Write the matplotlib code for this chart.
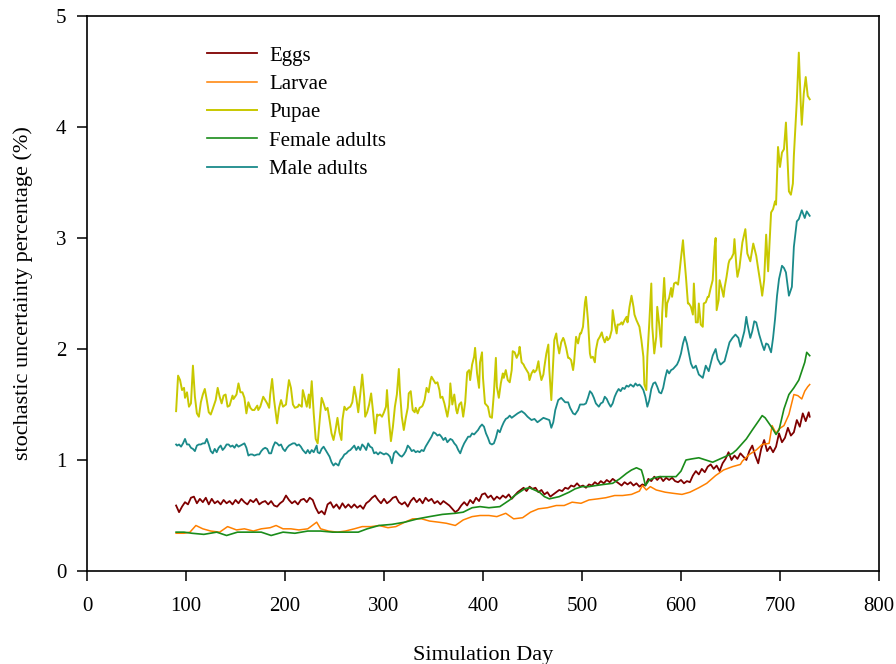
import matplotlib
matplotlib.use("Agg")
import matplotlib.pyplot as plt

# ---------------- data ----------------
PUPAE = [(90,1.44),(92,1.76),(94,1.72),(96,1.63),(98,1.65),(99,1.56),(101,1.61),(103,1.48),(105,1.51),(107,1.85),(109,1.57),(111,1.42),(113,1.39),(115,1.52),(117,1.59),(119,1.64),(121,1.54),(123,1.43),(125,1.41),(127,1.46),(130,1.54),(132,1.65),(134,1.57),(136,1.51),(138,1.58),(140,1.59),(142,1.48),(144,1.49),(147,1.58),(148,1.55),(151,1.59),(153,1.69),(155,1.61),(157,1.61),(159,1.56),(161,1.42),(163,1.52),(165,1.47),(167,1.45),(169,1.45),(172,1.49),(173,1.45),(175,1.48),(178,1.57),(180,1.54),(182,1.51),(184,1.47),(185,1.59),(187,1.73),(189,1.54),(192,1.33),(194,1.47),(196,1.54),(198,1.48),(201,1.50),(202,1.58),(204,1.72),(206,1.65),(208,1.50),(210,1.47),
(213,1.48),(214,1.50),(217,1.48),(218,1.63),(220,1.56),(222,1.48),(224,1.59),(225,1.47),(227,1.71),(229,1.42),(231,1.19),(233,1.15),(235,1.36),(237,1.56),(239,1.51),(241,1.45),(243,1.47),(245,1.36),(247,1.24),(249,1.18),(251,1.27),(253,1.38),(255,1.25),(257,1.18),(258,1.36),(260,1.48),(262,1.45),(264,1.47),(266,1.48),(268,1.52),(270,1.66),(272,1.56),(274,1.43),(276,1.59),(278,1.77),(280,1.57),(281,1.39),(283,1.43),(285,1.50),(287,1.60),(289,1.43),(291,1.24),(293,1.41),(294,1.40),(296,1.41),(298,1.39),(300,1.43),(302,1.48),(303,1.63),(305,1.36),(307,1.17),(309,1.30),(311,1.48),(313,1.59),(315,1.82),(316,1.63),(318,1.39),(320,1.27),(322,1.38),(324,1.47),(325,1.60),(327,1.62),(329,1.45),(331,1.43),(332,1.47),(334,1.42),(336,1.47),(338,1.48),(339,1.49),(341,1.54),(343,1.65),(345,1.61),(347,1.72),(348,1.75),(350,1.72),(352,1.69),(354,1.70),(356,1.63),(357,1.56),(359,1.57),(361,1.51),(362,1.47),(364,1.39),(366,1.50),(367,1.69),(369,1.50),(371,1.59),(373,1.45),(374,1.42),(376,1.50),(378,1.52),(380,1.39),(382,1.52),(384,1.79),(386,1.81),(387,1.72),(389,1.86),(391,1.93),(392,2.01),(394,1.78),(396,1.65),(397,1.88),(399,1.97),(400,1.74),(402,1.51),(403,1.50),(405,1.48),(407,1.39),(409,1.38),
(411,1.60),(413,1.92),(414,1.66),(416,1.56),(418,1.69),(420,1.78),(421,1.74),(423,1.81),(425,1.72),(427,1.70),(429,1.81),(430,1.98),(432,1.97),(434,1.92),(436,1.96),(437,2.02),(439,1.88),(441,1.86),(442,1.84),(444,1.81),(446,1.78),(447,1.72),(449,1.78),(451,1.81),(452,1.79),(454,1.81),(456,1.89),(457,1.81),(459,1.72),(461,1.77),(462,1.84),(464,1.96),(466,2.04),(467,1.81),(469,1.54),(470,1.72),(472,2.08),(474,2.14),(475,2.06),(477,1.96),(479,2.06),(481,2.10),(482,2.08),(484,2.01),(486,1.92),(487,1.92),(489,1.90),(491,1.81),(492,1.88),(494,2.11),(496,2.05),(498,2.14),(499,2.14),(501,2.20),(503,2.42),(504,2.47),(506,2.26),(508,1.96),(509,1.92),(511,1.93),(513,1.88),(514,1.99),(516,2.08),(518,2.11),(520,2.15),(521,2.11),(523,2.06),(525,2.11),(526,2.08),(528,2.10),(530,2.17),(531,2.35),(533,2.23),(535,2.14),(536,2.22),(538,2.22),(540,2.24),(541,2.22),(543,2.26),(545,2.29),(546,2.24),(548,2.38),(550,2.48),(552,2.38),(553,2.31),(555,2.26),(557,2.22),(558,2.20),(560,2.08),(562,1.93),(563,1.68),(565,1.63),(566,1.93),(568,2.24),(570,2.59),(571,2.20),(573,1.96),(575,2.11),(576,2.38),(578,2.22),(580,2.02),(581,2.32),(583,2.64),(585,2.29),(586,2.41),(588,2.46),(590,2.55),(591,2.47),(593,2.59),(595,2.60),(597,2.58),(598,2.65),(600,2.82),(602,2.98),(603,2.86),(605,2.65),(607,2.41),(608,2.41),(610,2.38),(612,2.31),(613,2.59),(615,2.24),(617,2.24),(618,2.41),(620,2.22),(622,2.20),(623,2.41),(625,2.42),(627,2.47),(628,2.47),(630,2.55),(632,2.62),(634,2.92),(635,3.00),(636,2.35),(638,2.44),(639,2.62),(641,2.55),(643,2.47),(644,2.55),(646,2.65),(648,2.77),(649,2.80),(651,2.82),(653,2.86),(654,2.99),(656,2.74),(657,2.65),
(659,2.73),(662,2.96),(665,3.08),(667,2.86),(670,2.79),(673,2.95),(676,2.84),(678,2.72),(681,2.55),(682,2.48),(684,2.62),(686,3.03),(688,2.70),(691,3.23),(693,3.26),(695,3.33),(696,3.30),(698,3.82),(700,3.64),(702,3.77),(704,3.80),(706,4.04),(709,3.42),(711,3.39),(713,3.49),(714,3.74),(717,4.24),(719,4.67),(721,4.20),(722,4.02),(724,4.30),(726,4.45),(728,4.28),(730,4.25)]

MALE = [(90,1.14),(91,1.13),(93,1.14),(95,1.12),(97,1.15),(99,1.19),(101,1.14),(103,1.14),(105,1.11),(107,1.10),(109,1.08),(111,1.13),(113,1.14),(115,1.14),(117,1.15),(119,1.15),(121,1.19),(123,1.14),(125,1.08),(127,1.06),(129,1.10),(131,1.07),(133,1.11),(135,1.13),(137,1.09),(139,1.11),(141,1.14),(143,1.14),(145,1.12),(147,1.13),(149,1.11),(151,1.14),(153,1.12),(155,1.13),(157,1.14),(159,1.15),(161,1.11),(163,1.04),(165,1.05),(167,1.05),(169,1.04),(172,1.05),(174,1.05),(176,1.08),(178,1.10),(180,1.11),(182,1.10),(184,1.06),(186,1.06),(188,1.12),(190,1.16),(192,1.15),(194,1.13),(196,1.14),(198,1.10),(200,1.08),(202,1.11),(204,1.13),(206,1.14),(208,1.15),
(210,1.15),(212,1.13),(214,1.14),(216,1.12),(218,1.09),(221,1.06),(223,1.09),(225,1.06),(227,1.09),(229,1.07),(232,1.13),(233,1.07),(235,1.06),(237,1.10),(239,1.12),(241,1.09),(243,1.06),(245,1.03),(247,0.98),(249,0.95),(251,0.97),(254,0.95),(256,1.00),(258,1.02),(260,1.05),(262,1.06),(264,1.08),(266,1.09),(268,1.11),(270,1.13),(272,1.09),(274,1.12),(276,1.09),(278,1.14),(280,1.12),(282,1.09),(284,1.15),(286,1.12),(288,1.11),(290,1.06),(292,1.07),(294,1.05),(296,1.07),(298,1.06),(300,1.05),(302,1.06),(304,1.05),(306,1.03),(308,0.97),(310,1.06),(312,1.08),(314,1.06),(316,1.04),(318,1.03),(320,1.05),(322,1.08),(324,1.13),(326,1.11),(328,1.08),(330,1.09),(332,1.07),(334,1.08),(336,1.07),(338,1.09),(340,1.08),(342,1.12),(344,1.15),(346,1.18),(348,1.21),(350,1.25),(352,1.24),(354,1.22),(356,1.23),(358,1.21),(360,1.18),(362,1.20),(364,1.16),(367,1.19),(369,1.18),(371,1.15),(373,1.13),(375,1.09),(377,1.06),(379,1.11),(381,1.15),(383,1.18),(385,1.21),(387,1.21),(389,1.24),(391,1.23),(393,1.25),(395,1.27),(397,1.30),(399,1.32),(401,1.30),(403,1.24),(405,1.20),(407,1.15),(409,1.14),(411,1.15),
(413,1.20),(415,1.27),(417,1.25),(419,1.30),(421,1.34),(423,1.37),(425,1.38),(427,1.40),(429,1.38),(432,1.40),(435,1.42),(439,1.44),(442,1.42),(445,1.39),(449,1.36),(452,1.37),(455,1.34),(458,1.36),(461,1.38),(464,1.37),(467,1.36),(469,1.29),(471,1.34),(473,1.45),(476,1.54),(479,1.56),(483,1.52),(486,1.52),(488,1.47),(491,1.42),(493,1.41),(496,1.45),(498,1.50),(502,1.50),(504,1.51),(506,1.56),(508,1.62),(510,1.60),(512,1.56),(514,1.51),(517,1.48),(519,1.51),(521,1.52),(523,1.57),(525,1.55),(527,1.51),(529,1.48),(531,1.51),(533,1.57),(535,1.61),(537,1.64),(539,1.62),(541,1.65),(543,1.64),(545,1.67),(547,1.66),(549,1.68),(552,1.66),(554,1.69),(556,1.67),(558,1.68),(560,1.66),(562,1.63),(564,1.57),(566,1.48),(568,1.54),(570,1.64),(572,1.69),(574,1.70),(576,1.66),(578,1.61),(580,1.60),(582,1.65),(584,1.74),(586,1.81),(588,1.78),(590,1.81),(592,1.82),(594,1.84),(596,1.86),(598,1.90),(600,1.96),(602,2.05),(604,2.11),(606,2.05),(608,1.96),(610,1.87),(612,1.83),(613,1.83),(615,1.85),(618,1.77),(622,1.74),(625,1.85),(628,1.80),(632,1.94),(635,2.00),(637,1.91),(640,1.86),(644,1.89),(647,1.99),(649,2.06),(652,2.10),(655,2.13),(658,2.10),(660,2.02),(664,2.16),(666,2.29),(667,2.23),(670,2.10),(672,2.16),(674,2.25),(676,2.24),(679,2.13),(682,2.04),(684,1.99),(686,2.05),(688,2.04),(691,1.97),(693,2.10),(695,2.27),(697,2.48),(699,2.63),(702,2.75),(704,2.73),(706,2.69),(709,2.48),(712,2.56),(714,2.92),(717,3.15),(719,3.17),(722,3.25),(725,3.18),(727,3.24),(730,3.20)]

EGGS_DAYS = list(range(90, 730, 3)) + [730]
EGGS = [0.59,0.53,0.58,0.62,0.60,0.66,0.67,0.61,0.65,0.62,
        0.66,0.60,0.65,0.61,0.63,0.60,0.64,0.61,0.63,0.60,
        0.64,0.61,0.65,0.62,0.60,0.64,0.62,0.65,0.60,0.62,
        0.63,0.60,0.63,0.59,0.58,0.61,0.63,0.68,0.64,0.61,
        0.63,0.60,0.64,0.65,0.62,0.66,0.64,0.57,0.52,0.54,
        0.51,0.60,0.62,0.57,0.60,0.56,0.61,0.57,0.60,0.57,
        0.60,0.57,0.59,0.56,0.61,0.63,0.66,0.68,0.64,0.61,
        0.65,0.61,0.63,0.66,0.67,0.62,0.60,0.62,0.58,0.63,
        0.66,0.62,0.65,0.61,0.66,0.63,0.65,0.61,0.63,0.60,
        0.63,0.61,0.59,0.56,0.53,0.55,0.59,0.62,0.59,0.64,
        0.61,0.66,0.63,0.69,0.70,0.66,0.68,0.64,0.67,0.65,
        0.68,0.66,0.69,0.65,0.68,0.71,0.73,0.75,0.72,0.76,
        0.74,0.75,0.71,0.73,0.69,0.71,0.67,0.69,0.71,0.73,
        0.72,0.75,0.74,0.77,0.76,0.79,0.76,0.77,0.75,0.78,
        0.77,0.80,0.78,0.81,0.79,0.82,0.80,0.83,0.81,0.79,
        0.77,0.80,0.78,0.80,0.77,0.79,0.76,0.78,0.77,0.83,
        0.81,0.85,0.82,0.85,0.81,0.84,0.82,0.84,0.81,0.80,
        0.82,0.79,0.81,0.80,0.86,0.90,0.87,0.92,0.89,0.94,
        0.96,0.92,0.95,0.90,0.97,1.01,1.07,1.00,1.04,1.01,
        1.06,1.03,1.00,1.08,1.13,1.04,0.97,1.10,1.18,1.08,
        1.12,1.07,1.12,1.24,1.16,1.20,1.29,1.22,1.25,1.36,
        1.30,1.42,1.35,1.43,1.39]

LARVAE = [(90,0.34),(98,0.34),(104,0.35),(110,0.41),(117,0.38),(125,0.36),(134,0.35),(142,0.40),(151,0.37),(159,0.38),(168,0.36),(176,0.38),(185,0.39),(191,0.41),(198,0.38),(206,0.38),(214,0.37),(223,0.38),(232,0.44),(236,0.38),(244,0.36),(253,0.35),(261,0.36),(270,0.38),(278,0.40),(287,0.40),(295,0.41),(304,0.39),(312,0.40),(321,0.44),(329,0.47),(338,0.47),(346,0.45),(355,0.44),(363,0.43),(372,0.41),(380,0.46),(389,0.49),(397,0.50),(406,0.50),(414,0.49),(423,0.52),(431,0.47),(440,0.48),(448,0.53),(456,0.56),(465,0.57),(474,0.59),(482,0.59),(490,0.62),(499,0.61),(507,0.64),(516,0.65),(524,0.66),(533,0.68),(541,0.68),(550,0.69),(558,0.72),(561,0.77),(565,0.73),(569,0.76),(575,0.73),(584,0.71),(592,0.70),(601,0.69),(609,0.71),(618,0.75),(626,0.79),(635,0.86),(643,0.91),(652,0.94),(660,0.96),(662,0.99),(669,1.05),(676,1.09),(682,1.14),(689,1.15),(692,1.31),(696,1.24),(699,1.28),(704,1.31),(709,1.41),(714,1.59),(718,1.58),(722,1.55),(725,1.62),(728,1.66),(730,1.68)]

FEMALE = [(90,0.35),(98,0.35),(106,0.34),(118,0.33),(131,0.35),(141,0.32),(152,0.35),(165,0.35),(176,0.35),(186,0.32),(198,0.35),(210,0.34),(223,0.36),(236,0.36),(248,0.35),(261,0.35),(274,0.35),(283,0.38),(295,0.41),(308,0.42),(321,0.44),(334,0.47),(346,0.49),(359,0.51),(372,0.52),(380,0.53),(389,0.57),(397,0.58),(406,0.57),(417,0.58),(422,0.61),(427,0.64),(432,0.68),(437,0.71),(442,0.74),(447,0.75),(452,0.73),(457,0.71),(462,0.67),(467,0.65),(472,0.66),(477,0.67),(482,0.69),(487,0.71),(493,0.74),(500,0.76),(507,0.76),(514,0.77),(522,0.78),(531,0.79),(538,0.83),(545,0.88),(550,0.91),(555,0.93),(560,0.91),(562,0.85),(564,0.77),(568,0.82),(573,0.84),(578,0.85),(586,0.85),(595,0.85),(600,0.90),(605,1.00),(611,1.01),(618,1.02),(625,1.00),(632,0.98),(637,1.00),(642,1.02),(647,1.04),(652,1.06),(656,1.09),(659,1.12),(666,1.19),(672,1.27),(679,1.36),(682,1.40),(685,1.38),(692,1.29),(696,1.23),(699,1.27),(704,1.46),(709,1.59),(714,1.65),(719,1.72),(722,1.80),(725,1.88),(727,1.97),(730,1.94)]

SERIES_NAMES = ["Eggs", "Larvae", "Pupae", "Female adults", "Male adults"]
COLORS = ["#7f0000", "#ff8000", "#c8c800", "#1a8c1a", "#1a8a8a"]
X_TICKS = [0, 100, 200, 300, 400, 500, 600, 700, 800]
Y_TICKS = [0, 1, 2, 3, 4, 5]
X_LABEL = "Simulation Day"
Y_LABEL = "stochastic uncertainty percentage (%)"

# ---------------- drawing ----------------
plt.rcParams["font.family"] = ["Liberation Serif", "DejaVu Serif"]
fig = plt.figure(figsize=(8.96, 6.64), dpi=100)
ax = fig.add_axes([87/896, 1 - 571/664, (879-87)/896, (571-16)/664])

def unzip(pairs):
    return [p[0] for p in pairs], [p[1] for p in pairs]

data = [
    (EGGS_DAYS, EGGS),
    unzip(LARVAE),
    unzip(PUPAE),
    unzip(FEMALE),
    unzip(MALE),
]
lw = [1.3, 1.1, 1.4, 1.2, 1.3]
for (xs, ys), name, col, w in zip(data, SERIES_NAMES, COLORS, lw):
    ax.plot(xs, ys, color=col, lw=w, label=name)

ax.set_xlim(0, 800)
ax.set_ylim(0, 5)
ax.set_xticks(X_TICKS)
ax.set_yticks(Y_TICKS)
ax.tick_params(axis="both", direction="out", length=7, width=1.1,
               labelsize=15, top=False, right=False)
ax.tick_params(axis="x", pad=12)
ax.tick_params(axis="y", pad=8)
for s in ax.spines.values():
    s.set_linewidth(1.2)

ax.set_xlabel(X_LABEL, fontsize=16, labelpad=21)
ax.set_ylabel(Y_LABEL, fontsize=16, labelpad=16)

leg = ax.legend(loc="upper left", bbox_to_anchor=(0.151, 0.946), frameon=False,
                fontsize=15, handlelength=2.4, handletextpad=0.6,
                labelspacing=0.42, borderpad=0, borderaxespad=0)

fig.savefig("out.png", dpi=100)
